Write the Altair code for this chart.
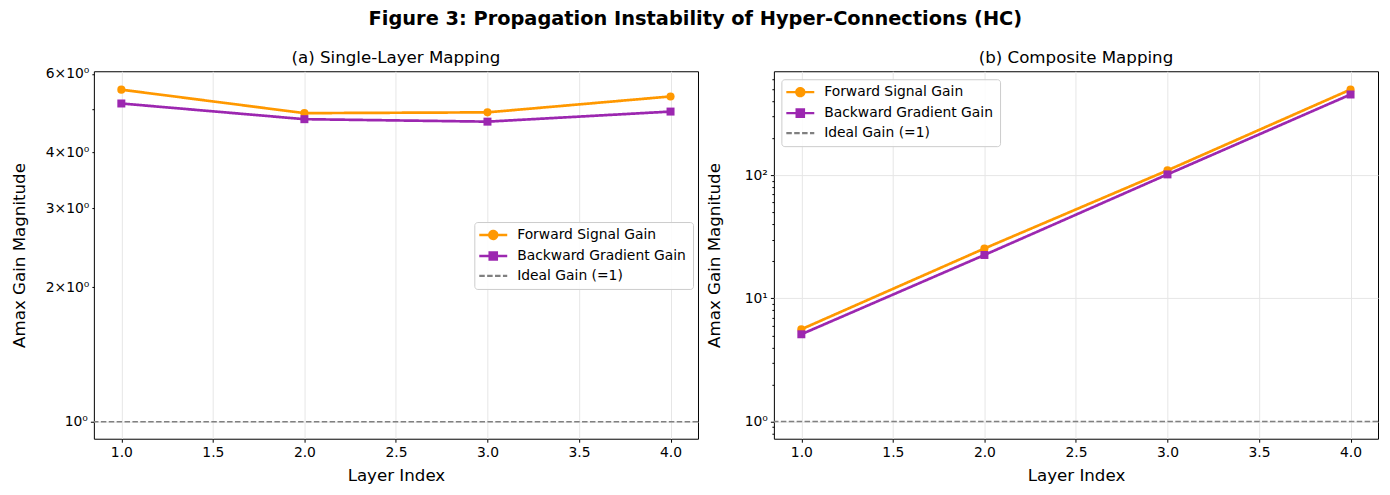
import altair as alt
import pandas as pd

# ---------------- data ----------------
layer_index = [1, 2, 3, 4]
single_forward = [5.53, 4.90, 4.92, 5.34]
single_backward = [5.15, 4.75, 4.69, 4.94]
composite_forward = [5.61, 25.4, 109.4, 496.0]
composite_backward = [5.11, 22.5, 101.5, 452.0]
ideal_gain = [1.0]

series_names = ["Forward Signal Gain", "Backward Gradient Gain", "Ideal Gain (=1)"]
series_colors = ["#ff9800", "#9c27b0", "#808080"]
series_dashes = [[1, 0], [1, 0], [5.5, 2.4]]

x_ticks = [1.0, 1.5, 2.0, 2.5, 3.0, 3.5, 4.0]
left_y_ticks = [1, 2, 3, 4, 5, 6]
left_y_labels = ["10⁰", "2×10⁰", "3×10⁰", "4×10⁰", "", "6×10⁰"]
left_y_major = [1]
right_y_ticks = [0.8, 0.9, 1, 2, 3, 4, 5, 6, 7, 8, 9, 10, 20, 30, 40, 50, 60, 70, 80, 90,
                 100, 200, 300, 400, 500, 600]
right_y_labels = ["", "", "10⁰", "", "", "", "", "", "", "", "", "10¹", "", "", "", "", "", "", "", "",
                  "10²", "", "", "", "", ""]
right_y_major = [1, 10, 100]

FONT = "DejaVu Sans"

# legend symbol paths (unit = 4px with symbolSize 64): line + marker
legend_paths = [
    "M-2,0L5,0M2.5,0A1,1,0,1,1,0.5,0A1,1,0,1,1,2.5,0",
    "M-2,0L5,0M0.6,-0.9L2.4,-0.9L2.4,0.9L0.6,0.9Z",
    "M-2,0L5,0",
]


def label_expr(values, labels):
    expr = "''"
    for v, l in reversed(list(zip(values, labels))):
        if l:
            expr = f"(abs(datum.value - {v}) < 1e-6 ? '{l}' : {expr})"
    return expr


def major_test(values):
    return " || ".join(f"abs(datum.value - {v}) < 1e-6" for v in values)


def panel(fwd, bwd, title, title_offset, domain, yticks, ylabels, ymajor, title_x, lx, ly):
    df = pd.DataFrame({
        "layer": layer_index * 2,
        "gain": fwd + bwd,
        "series": [series_names[0]] * len(fwd) + [series_names[1]] * len(bwd),
    })
    ideal_df = pd.DataFrame({"gain": ideal_gain, "series": [series_names[2]] * len(ideal_gain)})

    legend = alt.Legend(
        title=None, orient="none", legendX=lx, legendY=ly,
        labelFont=FONT, labelFontSize=13.9, labelColor="black", labelLimit=400,
        symbolSize=64, labelOffset=23, padding=6, rowPadding=3,
        symbolOpacity=1, symbolStrokeWidth=2.4,
        fillColor="rgba(255,255,255,0.85)", strokeColor="#cccccc", cornerRadius=3,
    )
    color = alt.Color("series:N", scale=alt.Scale(domain=series_names, range=series_colors), legend=legend)
    dash = alt.StrokeDash("series:N", scale=alt.Scale(domain=series_names, range=series_dashes), legend=legend)
    shape = alt.Shape("series:N", scale=alt.Scale(domain=series_names, range=legend_paths), legend=legend)

    x = alt.X("layer:Q",
              scale=alt.Scale(domain=[0.85, 4.15], nice=False, zero=False),
              axis=alt.Axis(values=x_ticks, format=".1f", title="Layer Index", grid=True,
                            tickSize=3.5, labelPadding=3, labelOverlap=False, labelFlush=False,
                            titleY=37, titleBaseline="middle"))
    y = alt.Y("gain:Q",
              scale=alt.Scale(type="log", domain=domain, nice=False),
              axis=alt.Axis(values=yticks, labelExpr=label_expr(yticks, ylabels),
                            title="Amax Gain Magnitude", grid=True,
                            gridOpacity={"condition": {"test": major_test(ymajor), "value": 1}, "value": 0},
                            tickSize={"condition": {"test": major_test(ymajor), "value": 3.5}, "value": 2},
                            labelPadding=3, labelOverlap=False, labelFlush=False,
                            titleX=title_x, titleBaseline="middle"))

    rule = alt.Chart(ideal_df).mark_rule(strokeWidth=1.5).encode(y=y, color=color, strokeDash=dash)
    lines = alt.Chart(df).mark_line(strokeWidth=2.7).encode(x=x, y=y, color=color, strokeDash=dash)
    # invisible layer that only carries the legend symbol shapes
    legend_layer = alt.Chart(df).mark_point(filled=True, opacity=0, size=64).encode(
        x=x, y=y, color=color, shape=shape)
    fwd_pts = alt.Chart(df).transform_filter(alt.datum.series == series_names[0]).mark_point(
        filled=True, size=66, opacity=1, shape="circle", color=series_colors[0]).encode(x=x, y=y)
    bwd_pts = alt.Chart(df).transform_filter(alt.datum.series == series_names[1]).mark_point(
        filled=True, size=64, opacity=1, shape="square", color=series_colors[1]).encode(x=x, y=y)
    return alt.layer(rule, lines, legend_layer, fwd_pts, bwd_pts).properties(
        width=605, height=368,
        title=alt.TitleParams(title, fontSize=16.7, fontWeight="normal", font=FONT, color="black",
                              offset=title_offset),
    )


left = panel(single_forward, single_backward, "(a) Single-Layer Mapping", 0,
             [0.916, 6.08], left_y_ticks, left_y_labels, left_y_major, -74, 381, 151)
right = panel(composite_forward, composite_backward, "(b) Composite Mapping", 5,
              [0.725, 698], right_y_ticks, right_y_labels, right_y_major, -59, 7.5, 8)

chart = alt.hconcat(left, right, spacing=76, bounds="flush").resolve_scale(
    color="independent", shape="independent", strokeDash="independent", y="independent"
).resolve_legend(color="independent", shape="independent", strokeDash="independent").properties(
    title=alt.TitleParams("Figure 3: Propagation Instability of Hyper-Connections (HC)",
                          fontSize=19.4, fontWeight="bold", font=FONT, color="black", anchor="middle", offset=20),
    padding={"left": 3, "top": 0, "right": 2, "bottom": 0},
).configure_view(stroke="black", strokeWidth=1).configure_axis(
    domain=False, labelFont=FONT, labelFontSize=13.9, labelColor="black",
    tickColor="black", tickWidth=1, titleFont=FONT, titleFontSize=16.7,
    titleFontWeight="normal", titleColor="black", gridColor="#e6e6e6", gridWidth=1,
)

chart.save("out.html", embed_options={"renderer": "svg", "actions": False})
